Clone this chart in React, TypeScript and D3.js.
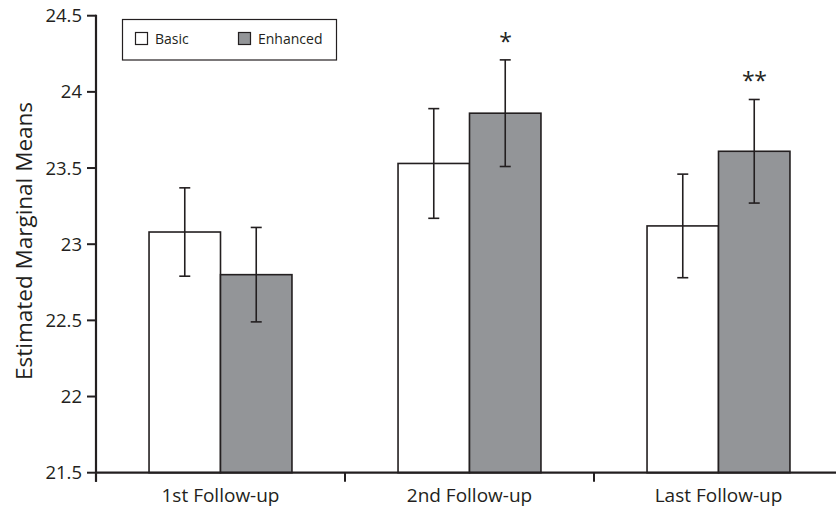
import React from 'react';
import * as d3 from 'd3';

const categories = ['1st Follow-up', '2nd Follow-up', 'Last Follow-up'];
const groups = ['Basic', 'Enhanced'];
const basicMeans = [23.08, 23.53, 23.12];
const basicLow = [22.79, 23.17, 22.78];
const basicHigh = [23.37, 23.89, 23.46];
const enhancedMeans = [22.8, 23.86, 23.61];
const enhancedLow = [22.49, 23.51, 23.27];
const enhancedHigh = [23.11, 24.21, 23.95];
const sigMarks = ['', '*', '**'];
const yTicks = [21.5, 22, 22.5, 23, 23.5, 24, 24.5];

const W = 836;
const H = 509;
const ink = '#231f20';
const gray = '#939598';
const font = "'Open Sans', 'Noto Sans', sans-serif";

const App: React.FC = () => {
  const y = d3.scaleLinear().domain([21.5, 24.5]).range([472.7, 15.7]);
  const x = d3.scaleBand<string>()
    .domain(categories)
    .range([96, 843])
    .paddingInner(0.426)
    .paddingOuter(0.213);
  const xi = d3.scaleBand<string>().domain(groups).range([0, x.bandwidth()]);

  const series = [
    { name: 'Basic', fill: '#ffffff', mean: basicMeans, lo: basicLow, hi: basicHigh },
    { name: 'Enhanced', fill: gray, mean: enhancedMeans, lo: enhancedLow, hi: enhancedHigh },
  ];

  const step = x.step();
  const boundaries = d3.range(categories.length + 1).map(i => 96 + i * step);

  return (
    <svg width={W} height={H} style={{ position: 'absolute', left: 0, top: 0, background: '#fff' }}
      fontFamily={font}>
      {/* bars */}
      {categories.map((c, i) => (
        <g key={c}>
          {series.map(s => {
            const bx = (x(c) || 0) + (xi(s.name) || 0);
            const bw = xi.bandwidth();
            const cx = bx + bw / 2;
            return (
              <g key={s.name}>
                <rect x={bx} y={y(s.mean[i])} width={bw} height={y(21.5) - y(s.mean[i])}
                  fill={s.fill} stroke={ink} strokeWidth={1.6} />
                <line x1={cx} x2={cx} y1={y(s.lo[i])} y2={y(s.hi[i])} stroke={ink} strokeWidth={1.6} />
                <line x1={cx - 5.5} x2={cx + 5.5} y1={y(s.lo[i])} y2={y(s.lo[i])} stroke={ink} strokeWidth={1.6} />
                <line x1={cx - 5.5} x2={cx + 5.5} y1={y(s.hi[i])} y2={y(s.hi[i])} stroke={ink} strokeWidth={1.6} />
              </g>
            );
          })}
          {sigMarks[i] && (
            <text x={(x(c) || 0) + (xi('Enhanced') || 0) + xi.bandwidth() / 2}
              y={y(enhancedHigh[i]) - 10} textAnchor="middle" fontSize={23} fill={ink}
              letterSpacing={-0.5}>
              {sigMarks[i]}
            </text>
          )}
        </g>
      ))}

      {/* y axis */}
      <line x1={96} x2={96} y1={y(24.5) - 1} y2={y(21.5) + 9} stroke={ink} strokeWidth={2.2} />
      {yTicks.map(t => (
        <g key={t}>
          <line x1={87} x2={96} y1={y(t)} y2={y(t)} stroke={ink} strokeWidth={2} />
          <text x={82} y={y(t)} dy="0.35em" textAnchor="end" fontSize={18.5} fill={ink}>{t}</text>
        </g>
      ))}
      <text transform="translate(32,241) rotate(-90)"
        textAnchor="middle" fontSize={22.5} fill={ink}>Estimated Marginal Means</text>

      {/* x axis */}
      <line x1={95} x2={843} y1={y(21.5)} y2={y(21.5)} stroke={ink} strokeWidth={2.2} />
      {boundaries.map(b => (
        <line key={b} x1={b} x2={b} y1={y(21.5)} y2={y(21.5) + 9} stroke={ink} strokeWidth={2} />
      ))}
      {categories.map(c => (
        <text key={c} x={(x(c) || 0) + x.bandwidth() / 2} y={502} textAnchor="middle"
          fontSize={19} fill={ink}>{c}</text>
      ))}

      {/* legend */}
      <rect x={122.5} y={19.5} width={214} height={40.5} fill="#fff" stroke={ink} strokeWidth={1.2} />
      {series.map((s, k) => (
        <g key={s.name} transform={`translate(${k === 0 ? 135 : 238},32)`}>
          <rect x={0.5} y={0.5} width={12} height={12} fill={s.fill} stroke={ink} strokeWidth={1.2} />
          <text x={20} y={12} fontSize={14} fill={ink}>{s.name}</text>
        </g>
      ))}
    </svg>
  );
};

export default App;
